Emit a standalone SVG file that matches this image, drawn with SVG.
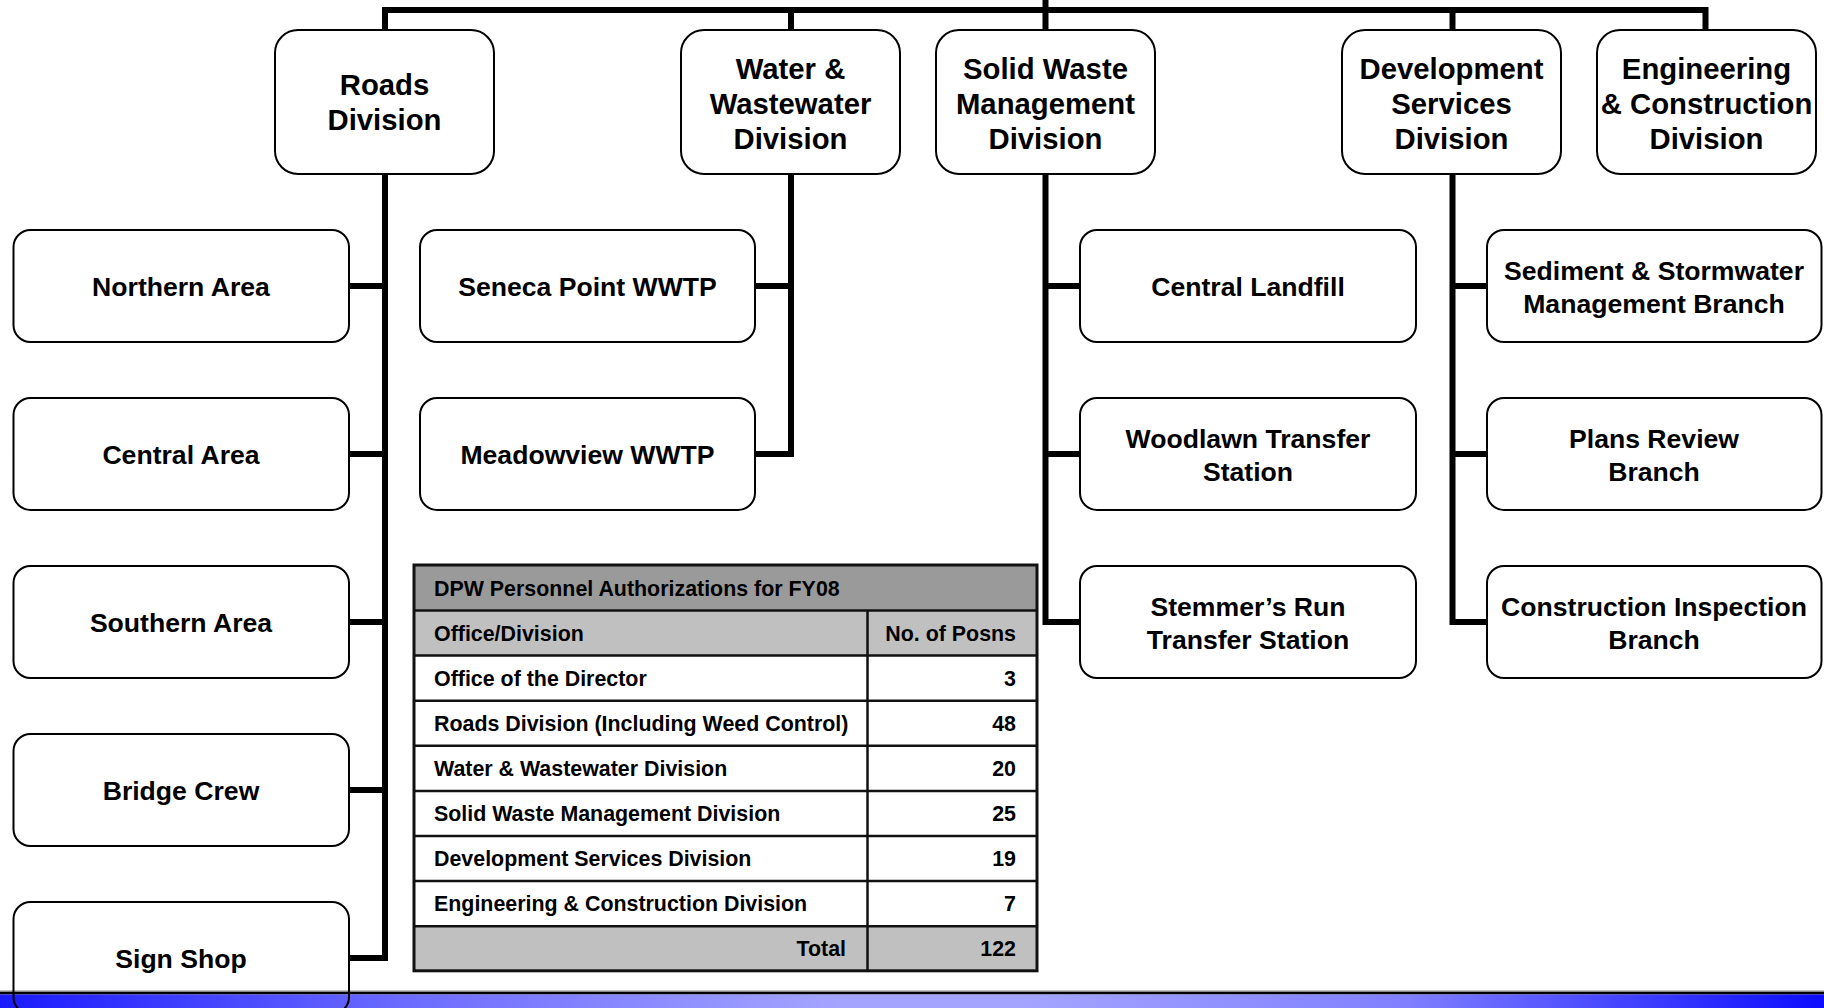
<svg xmlns="http://www.w3.org/2000/svg" width="1824" height="1008" viewBox="0 0 1824 1008">
<defs>
<linearGradient id="bar" x1="0" y1="0" x2="1" y2="0">
<stop offset="0" stop-color="#1a1aff"/>
<stop offset="0.22" stop-color="#6b6bff"/>
<stop offset="0.46" stop-color="#a4a4ff"/>
<stop offset="0.56" stop-color="#a4a4ff"/>
<stop offset="0.77" stop-color="#8080ff"/>
<stop offset="1" stop-color="#0c0cff"/>
</linearGradient>
<style>
.top rect{fill:#fff;stroke:#000;stroke-width:2}
.sub rect{fill:#fff;stroke:#000;stroke-width:2}
text{font-family:"Liberation Sans",Arial,Helvetica,sans-serif;font-weight:bold;fill:#000}
.top text{font-size:29.3px;text-anchor:middle}
.sub text{font-size:26.6px;text-anchor:middle}
.conn path{fill:none;stroke:#000;stroke-width:6;stroke-linejoin:miter;stroke-linecap:butt}
.tbl text{font-size:21.4px}
.tbl .r{text-anchor:end}
.grid line{stroke:#111;stroke-width:2.5}
</style>
</defs>
<rect x="0" y="0" width="1824" height="1008" fill="#fff"/>

<g id="connectors" class="conn">
<path d="M1045.5 0 V13"/>
<path d="M385 30 V10 H1705.5 V30"/>
<path d="M791 10 V30"/>
<path d="M1045.5 10 V30"/>
<path d="M1452.5 10 V30"/>
<path d="M385 174 V958 H349"/>
<path d="M385 286 H349 M385 454 H349 M385 622 H349 M385 790 H349"/>
<path d="M791 174 V454 H755 M791 286 H755"/>
<path d="M1045.5 174 V622 H1080 M1045.5 286 H1080 M1045.5 454 H1080"/>
<path d="M1452.5 174 V622 H1487 M1452.5 286 H1487 M1452.5 454 H1487"/>
</g>

<g id="roads-division" class="top"><rect x="275" y="30" width="219" height="144" rx="23"/><text x="384.5" y="94.5">Roads</text><text x="384.5" y="129.5">Division</text></g>
<g id="water-division" class="top"><rect x="681" y="30" width="219" height="144" rx="23"/><text x="790.5" y="78.5">Water &amp;</text><text x="790.5" y="113.5">Wastewater</text><text x="790.5" y="148.5">Division</text></g>
<g id="solid-waste-division" class="top"><rect x="936" y="30" width="219" height="144" rx="23"/><text x="1045.5" y="78.5">Solid Waste</text><text x="1045.5" y="113.5">Management</text><text x="1045.5" y="148.5">Division</text></g>
<g id="development-division" class="top"><rect x="1342" y="30" width="219" height="144" rx="23"/><text x="1451.5" y="78.5">Development</text><text x="1451.5" y="113.5">Services</text><text x="1451.5" y="148.5">Division</text></g>
<g id="engineering-division" class="top"><rect x="1597" y="30" width="219" height="144" rx="23"/><text x="1706.5" y="78.5">Engineering</text><text x="1706.5" y="113.5">&amp; Construction</text><text x="1706.5" y="148.5">Division</text></g>

<g id="northern-area" class="sub"><rect x="13.5" y="230" width="335.5" height="112" rx="17"/><text x="181" y="296">Northern Area</text></g>
<g id="central-area" class="sub"><rect x="13.5" y="398" width="335.5" height="112" rx="17"/><text x="181" y="464">Central Area</text></g>
<g id="southern-area" class="sub"><rect x="13.5" y="566" width="335.5" height="112" rx="17"/><text x="181" y="632">Southern Area</text></g>
<g id="bridge-crew" class="sub"><rect x="13.5" y="734" width="335.5" height="112" rx="17"/><text x="181" y="800">Bridge Crew</text></g>

<g id="seneca-point" class="sub"><rect x="420" y="230" width="335" height="112" rx="17"/><text x="587.5" y="296">Seneca Point WWTP</text></g>
<g id="meadowview" class="sub"><rect x="420" y="398" width="335" height="112" rx="17"/><text x="587.5" y="464">Meadowview WWTP</text></g>

<g id="central-landfill" class="sub"><rect x="1080" y="230" width="336" height="112" rx="17"/><text x="1248" y="296">Central Landfill</text></g>
<g id="woodlawn" class="sub"><rect x="1080" y="398" width="336" height="112" rx="17"/><text x="1248" y="448">Woodlawn Transfer</text><text x="1248" y="480.5">Station</text></g>
<g id="stemmers-run" class="sub"><rect x="1080" y="566" width="336" height="112" rx="17"/><text x="1248" y="616">Stemmer’s Run</text><text x="1248" y="648.5">Transfer Station</text></g>

<g id="sediment-stormwater" class="sub"><rect x="1487" y="230" width="334.5" height="112" rx="17"/><text x="1654" y="280">Sediment &amp; Stormwater</text><text x="1654" y="312.5">Management Branch</text></g>
<g id="plans-review" class="sub"><rect x="1487" y="398" width="334.5" height="112" rx="17"/><text x="1654" y="448">Plans Review</text><text x="1654" y="480.5">Branch</text></g>
<g id="construction-inspection" class="sub"><rect x="1487" y="566" width="334.5" height="112" rx="17"/><text x="1654" y="616">Construction Inspection</text><text x="1654" y="648.5">Branch</text></g>

<g id="personnel-table" class="tbl">
<rect x="414" y="565" width="623" height="45.5" fill="#9a9a9a"/>
<rect x="414" y="610.5" width="623" height="45.1" fill="#c0c0c0"/>
<rect x="414" y="655.6" width="623" height="270.6" fill="#fff"/>
<rect x="414" y="926.2" width="623" height="44.6" fill="#c0c0c0"/>
<g class="grid">
<line x1="414" y1="610.5" x2="1037" y2="610.5"/>
<line x1="414" y1="655.6" x2="1037" y2="655.6"/>
<line x1="414" y1="700.7" x2="1037" y2="700.7"/>
<line x1="414" y1="745.8" x2="1037" y2="745.8"/>
<line x1="414" y1="790.9" x2="1037" y2="790.9"/>
<line x1="414" y1="836" x2="1037" y2="836"/>
<line x1="414" y1="881.1" x2="1037" y2="881.1"/>
<line x1="414" y1="926.2" x2="1037" y2="926.2"/>
<line x1="867.5" y1="610.5" x2="867.5" y2="970.8"/>
</g>
<rect x="414" y="565" width="623" height="405.8" fill="none" stroke="#111" stroke-width="3"/>
<text x="434" y="595.5">DPW Personnel Authorizations for FY08</text>
<text x="434" y="640.5">Office/Division</text>
<text class="r" x="1016" y="640.5">No. of Posns</text>
<text x="434" y="685.6">Office of the Director</text>
<text class="r" x="1016" y="685.6">3</text>
<text x="434" y="730.7">Roads Division (Including Weed Control)</text>
<text class="r" x="1016" y="730.7">48</text>
<text x="434" y="775.8">Water &amp; Wastewater Division</text>
<text class="r" x="1016" y="775.8">20</text>
<text x="434" y="820.9">Solid Waste Management Division</text>
<text class="r" x="1016" y="820.9">25</text>
<text x="434" y="866">Development Services Division</text>
<text class="r" x="1016" y="866">19</text>
<text x="434" y="911.1">Engineering &amp; Construction Division</text>
<text class="r" x="1016" y="911.1">7</text>
<text class="r" x="846" y="956.2">Total</text>
<text class="r" x="1016" y="956.2">122</text>
</g>

<g id="footer-bar">
<rect x="0" y="990.5" width="1824" height="1.5" fill="#888"/>
<rect x="0" y="992" width="1824" height="2.5" fill="#000"/>
<rect x="0" y="994.5" width="1824" height="13.5" fill="url(#bar)"/>
</g>

<g id="sign-shop" class="sub"><rect x="13.5" y="902" width="335.5" height="112" rx="17" style="fill:none"/><text x="181" y="968">Sign Shop</text></g>
</svg>
